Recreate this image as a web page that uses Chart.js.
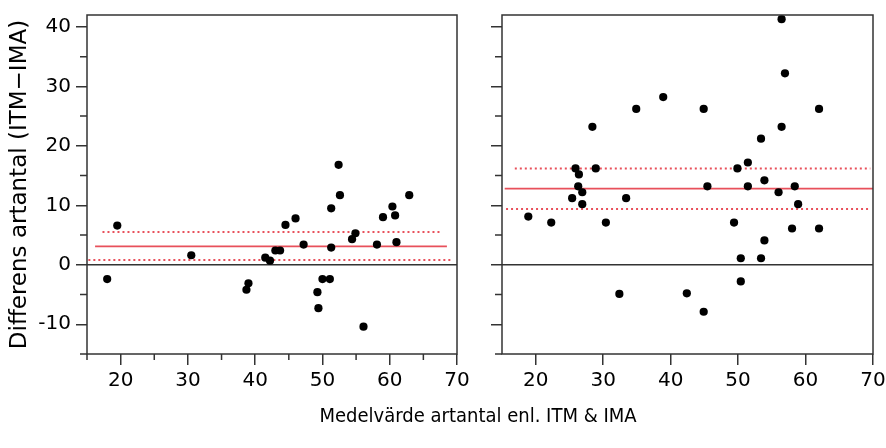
<!DOCTYPE html>
<html>
<head>
<meta charset="utf-8">
<script src="https://cdn.jsdelivr.net/npm/chart.js@4"></script>
<style>
  body { margin: 0; width: 886px; height: 448px; background: #fff; overflow: hidden; position: relative; font-family: "DejaVu Sans"; }
  #leftWrap { position: absolute; left: 0; top: 0; width: 480px; height: 448px; }
  #rightWrap { position: absolute; left: 480px; top: 0; width: 406px; height: 448px; }
  #xTitle { position: absolute; left: 0; width: 956px; top: 403px; text-align: center; font-size: 20px; color: #000;
            font-family: "DejaVu Sans Condensed", "DejaVu Sans"; font-stretch: condensed; }
</style>
</head>
<body>
<div id="leftWrap"><canvas id="leftChart" width="480" height="448"></canvas></div>
<div id="rightWrap"><canvas id="rightChart" width="406" height="448"></canvas></div>
<div id="xTitle">Medelvärde artantal enl. ITM &amp; IMA</div>
<script>
// axes
const xMin = 15, xMax = 70;
const yMin = -15, yMax = 42;
const xTicks = [20, 30, 40, 50, 60, 70];
const yTicks = [-10, 0, 10, 20, 30, 40];
const xMinorLeft = [15, 25, 35, 45, 55, 65];
const yMinor = [-15, -5, 5, 15, 25, 35];

// left panel points
const leftX = [18.0, 19.5, 30.5, 38.7, 39.0, 41.5, 42.2, 43.0, 43.7, 44.5, 46.0, 47.2, 49.25, 49.4, 50.0, 51.1, 51.3, 51.3, 52.4, 52.6, 54.4, 54.9, 56.1, 58.1, 59.0, 60.4, 60.8, 61.0, 62.9];
const leftY = [-2.4, 6.6, 1.6, -4.2, -3.1, 1.2, 0.7, 2.4, 2.4, 6.7, 7.8, 3.4, -4.6, -7.3, -2.4, -2.4, 9.5, 2.9, 16.8, 11.7, 4.3, 5.3, -10.4, 3.4, 8.0, 9.8, 8.3, 3.8, 11.7];
// left mean difference and limits: [value, from x, to x]
const leftMean = [3.1, 16.2, 68.5];
const leftUpper = [5.5, 17.3, 67.6];
const leftLower = [0.8, 15.2, 69.4];

// right panel points
const rightX = [18.9, 22.3, 25.4, 25.9, 26.3, 26.4, 26.9, 26.9, 28.4, 28.9, 30.4, 32.4, 33.4, 34.9, 38.9, 42.4, 44.9, 44.9, 45.45, 49.4, 49.9, 50.4, 50.4, 51.45, 51.45, 53.4, 53.4, 53.9, 53.9, 56.0, 56.45, 56.95, 56.45, 58.0, 58.4, 58.9, 62.0, 62.0];
const rightY = [8.1, 7.1, 11.2, 16.2, 13.2, 15.2, 12.2, 10.2, 23.2, 16.2, 7.1, -4.9, 11.2, 26.2, 28.2, -4.8, 26.2, -7.9, 13.2, 7.1, 16.2, 1.1, -2.8, 17.2, 13.2, 21.2, 1.1, 14.2, 4.1, 12.2, 41.3, 32.2, 23.2, 6.1, 13.2, 10.2, 26.2, 6.1];
const rightMean = [12.8, 15.4, 70];
const rightUpper = [16.2, 16.9, 69.6];
const rightLower = [9.4, 15.6, 69.6];

const red = '#e8505b';
const axisColor = '#333';

Chart.defaults.font.family = 'DejaVu Sans';
Chart.defaults.font.size = 20;
Chart.defaults.color = '#000';

function toPoints(xs, ys) {
  return xs.map((x, i) => ({ x: x, y: ys[i] }));
}

function hline(spec, dashed) {
  return {
    data: [{ x: spec[1], y: spec[0] }, { x: spec[2], y: spec[0] }],
    showLine: true,
    borderColor: red,
    borderWidth: dashed ? 2 : 1.6,
    borderDash: dashed ? [2, 3] : [],
    pointRadius: 0,
    order: 2
  };
}

function makeFrame(xMinor) {
  return {
    id: 'frame',
    afterDraw(chart) {
      const { ctx, chartArea: a, scales } = chart;
      ctx.save();
      ctx.strokeStyle = axisColor;
      ctx.lineWidth = 1.5;
      ctx.strokeRect(a.left, a.top, a.right - a.left, a.bottom - a.top);
      ctx.beginPath();
      yMinor.forEach(v => {
        const p = scales.y.getPixelForValue(v);
        ctx.moveTo(a.left, p);
        ctx.lineTo(a.left - 7, p);
      });
      xMinor.forEach(v => {
        const p = scales.x.getPixelForValue(v);
        ctx.moveTo(p, a.bottom);
        ctx.lineTo(p, a.bottom + 6);
      });
      ctx.stroke();
      ctx.restore();
    }
  };
}

function makeChart(id, xs, ys, mean, upper, lower, opts) {
  return new Chart(document.getElementById(id), {
    type: 'scatter',
    data: {
      datasets: [
        {
          data: toPoints(xs, ys),
          backgroundColor: '#000',
          borderWidth: 0,
          pointRadius: 4.1,
          order: 1
        },
        hline(mean, false),
        hline(upper, true),
        hline(lower, true)
      ]
    },
    options: {
      responsive: false,
      animation: false,
      layout: { padding: { top: 15, right: opts.padRight, left: 0, bottom: 0 } },
      plugins: { legend: { display: false }, tooltip: { enabled: false } },
      scales: {
        x: {
          type: 'linear',
          min: xMin,
          max: xMax,
          afterBuildTicks: s => { s.ticks = xTicks.map(v => ({ value: v })); },
          afterFit: s => { s.height = 94; s.paddingLeft = 0; s.paddingRight = 0; },
          border: { display: false },
          grid: { drawOnChartArea: false, tickLength: 11, tickColor: axisColor, lineWidth: 1.5 },
          ticks: { padding: 4, maxRotation: 0 }
        },
        y: {
          type: 'linear',
          min: yMin,
          max: yMax,
          afterBuildTicks: s => { s.ticks = yTicks.map(v => ({ value: v })); },
          afterFit: s => { s.width = opts.yWidth; s.paddingTop = 0; s.paddingBottom = 0; },
          border: { display: false },
          grid: {
            drawOnChartArea: true,
            color: c => (c.tick && c.tick.value === 0 ? axisColor : 'rgba(0,0,0,0)'),
            tickColor: axisColor,
            tickLength: 11,
            lineWidth: 1.5
          },
          ticks: { display: opts.yLabels, padding: 5 },
          title: {
            display: opts.yLabels,
            text: 'Differens artantal (ITM−IMA)',
            font: { size: 23 },
            padding: { top: 6, bottom: 0 }
          }
        }
      }
    },
    plugins: [makeFrame(opts.xMinor)]
  });
}

makeChart('leftChart', leftX, leftY, leftMean, leftUpper, leftLower,
  { padRight: 23, yWidth: 87, yLabels: true, xMinor: xMinorLeft });
makeChart('rightChart', rightX, rightY, rightMean, rightUpper, rightLower,
  { padRight: 13, yWidth: 22, yLabels: false, xMinor: [] });
</script>
</body>
</html>
